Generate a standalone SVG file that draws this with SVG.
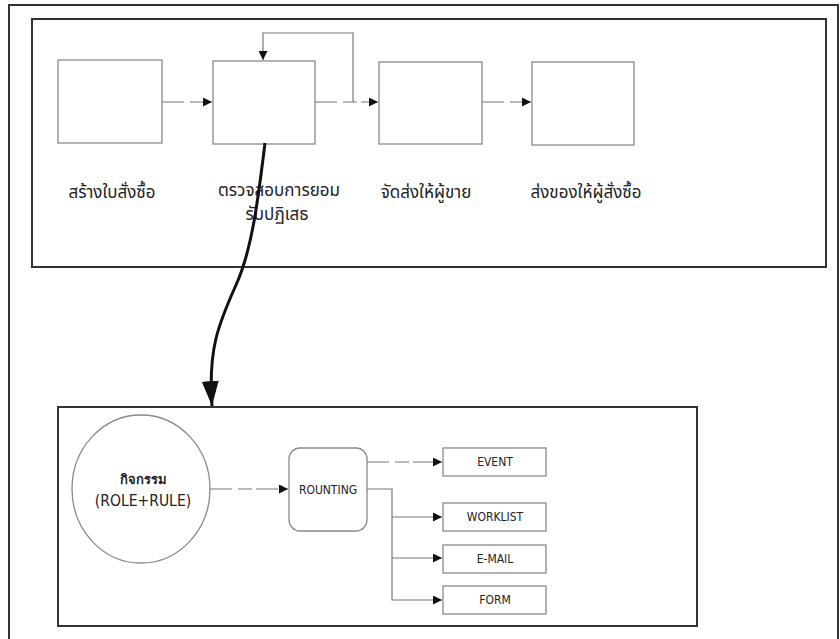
<svg xmlns="http://www.w3.org/2000/svg" width="840" height="639" viewBox="0 0 840 639">
<defs>
<style>
.frame{fill:none;stroke:#333;stroke-width:2}
.box{fill:#fff;stroke:#8a8a8a;stroke-width:1.3}
.conn{fill:none;stroke:#777;stroke-width:1.2}
.dash{stroke-dasharray:22 6 14 4}
.th{font-family:"Noto Sans Thai","Tahoma","Liberation Sans","DejaVu Sans",sans-serif;font-size:17px;fill:#222;text-anchor:middle}
.lb{font-family:"DejaVu Sans Condensed","DejaVu Sans","Liberation Sans",sans-serif;font-size:12px;fill:#222;text-anchor:middle}
</style>
<marker id="ah" viewBox="0 0 10 10" refX="10" refY="5" markerWidth="9" markerHeight="9" markerUnits="userSpaceOnUse" orient="auto">
<path d="M0,0 L10,5 L0,10 z" fill="#111"/>
</marker>
<marker id="bigah" viewBox="0 0 10 10" refX="10" refY="5" markerWidth="25" markerHeight="17" markerUnits="userSpaceOnUse" orient="auto" preserveAspectRatio="none">
<path d="M0,0 L10,5 L0,10 z" fill="#111"/>
</marker>
</defs>
<rect width="840" height="639" fill="#fff"/>
<rect class="frame" x="9" y="5" width="829" height="645"/>
<rect class="frame" x="32" y="19" width="794" height="248"/>
<rect class="frame" x="58" y="407" width="639" height="219"/>

<g id="n1"><rect class="box" x="58" y="60" width="104" height="83"/>
<text class="th" x="112" y="198">สร้างใบสั่งซื้อ</text></g>
<g id="n2"><rect class="box" x="213" y="61" width="102" height="83"/>
<text class="th" x="279" y="196">ตรวจสอบการยอม</text>
<text class="th" x="277" y="220">รับปฏิเสธ</text></g>
<g id="n3"><rect class="box" x="379" y="62" width="103" height="82"/>
<text class="th" x="426" y="198">จัดส่งให้ผู้ขาย</text></g>
<g id="n4"><rect class="box" x="532" y="62" width="102" height="83"/>
<text class="th" x="586" y="198">ส่งของให้ผู้สั่งซื้อ</text></g>

<g id="activity"><ellipse class="box" cx="141" cy="489" rx="69" ry="74"/>
<text class="lb" x="143" y="484" style="font-weight:bold;font-size:13px">กิจกรรม</text>
<text class="lb" x="143" y="506" style="font-size:15.5px">(ROLE+RULE)</text></g>
<g id="routing"><rect class="box" x="289" y="448" width="78" height="83" rx="11"/>
<text class="lb" x="328" y="494">ROUNTING</text></g>
<g id="event"><rect class="box" x="443" y="448" width="103" height="28"/>
<text class="lb" x="495" y="466">EVENT</text></g>
<g id="worklist"><rect class="box" x="443" y="503" width="103" height="28"/>
<text class="lb" x="495" y="521">WORKLIST</text></g>
<g id="email"><rect class="box" x="443" y="545" width="103" height="28"/>
<text class="lb" x="495" y="563">E-MAIL</text></g>
<g id="form"><rect class="box" x="443" y="586" width="103" height="28"/>
<text class="lb" x="495" y="604">FORM</text></g>

<g id="connectors">
<path class="conn dash" d="M162,102 H212" marker-end="url(#ah)"/>
<path class="conn dash" d="M315,102 H378" marker-end="url(#ah)"/>
<path class="conn" d="M353,102 V33 H263 V60" marker-end="url(#ah)"/>
<path class="conn dash" d="M482,102 H531" marker-end="url(#ah)"/>
<path d="M265,143 C258,200 252,250 236,285 C218,325 208,350 212,406" fill="none" stroke="#111" stroke-width="3" marker-end="url(#bigah)"/>
<path class="conn dash" d="M210,489 H288" marker-end="url(#ah)"/>
<path class="conn dash" d="M367,462 H442" marker-end="url(#ah)"/>
<path class="conn" d="M367,489 H392 V600 H442" marker-end="url(#ah)"/>
<path class="conn" d="M392,517 H442" marker-end="url(#ah)"/>
<path class="conn" d="M392,558 H442" marker-end="url(#ah)"/>
</g>
</svg>
